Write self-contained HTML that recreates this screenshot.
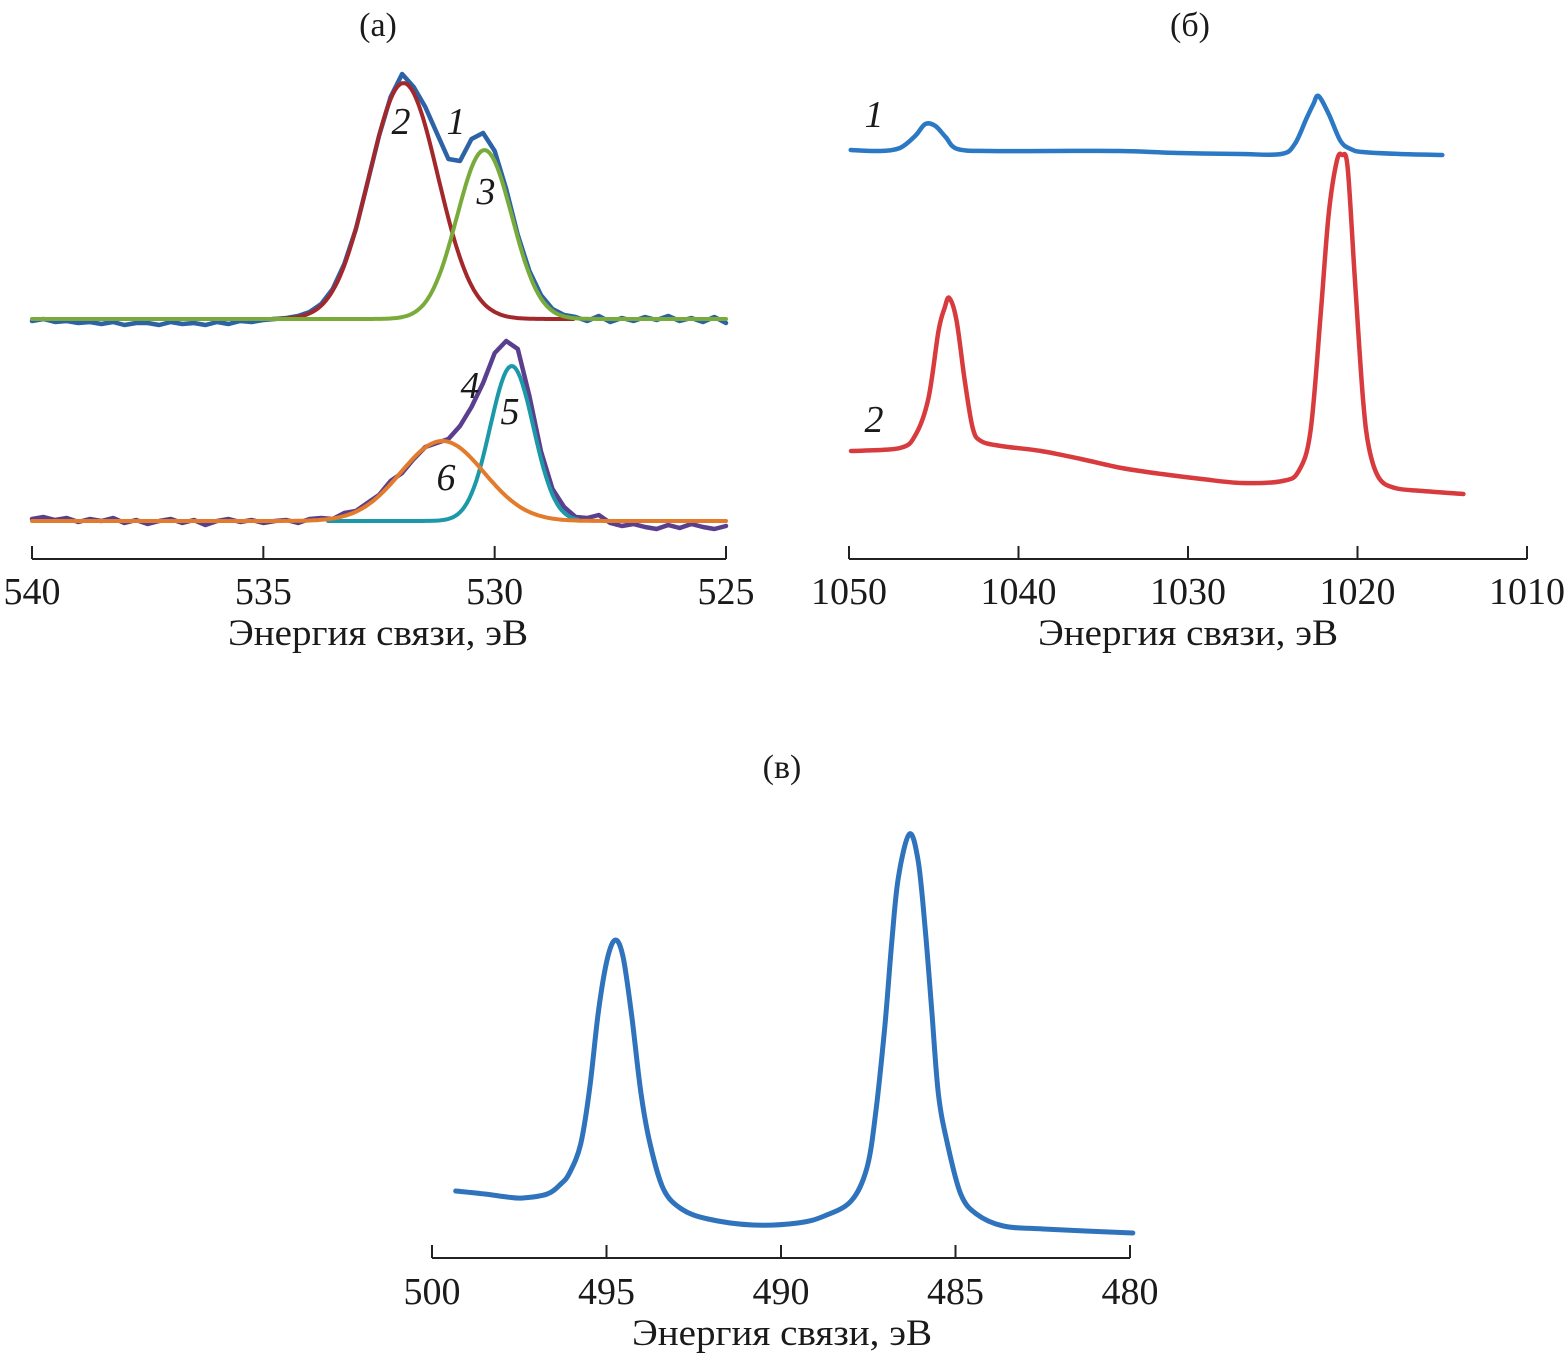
<!DOCTYPE html>
<html><head><meta charset="utf-8">
<style>
html,body{margin:0;padding:0;background:#fff;}
svg{display:block;}
text{font-family:"Liberation Serif",serif;fill:#1a1a1a;}
</style></head>
<body>
<svg id="chart" width="1566" height="1357" viewBox="0 0 1566 1357" xmlns="http://www.w3.org/2000/svg">
  <text x="378" y="36" font-size="34" text-anchor="middle">(а)</text>
  <text x="1190" y="36" font-size="34" text-anchor="middle">(б)</text>
  <text x="782" y="778" font-size="34" text-anchor="middle">(в)</text>
  <g id="pa"></g>
  <g id="pb"></g>
  <g id="pc"></g>
</svg>
<script>
// ---------- Panel (a): O 1s ----------
var aTicks = [540, 535, 530, 525];
var aGrid = [540, 525, 0.25];
var aSpec1 = [-2,0,-3,-2,-4,-3,-5,-3,-6,-4,-4,-6,-3,-5,-4,-6,-3,-5,-2,-3,-1,0,
  1,3,7,15,30,55,90,136,183,222,245,232,212,186,160,158,180,186,168,130,84,48,24,10,4,2,-2,
  3,-3,1,-2,2,-1,3,-2,1,-3,2,-4];
var aSpec4 = [2,4,1,3,-1,2,0,3,-2,1,-3,0,2,-2,1,-4,0,2,-1,1,-2,0,
  1,-2,2,3,2,8,10,18,26,40,48,62,74,78,82,95,114,138,168,180,172,125,70,32,14,4,
  3,6,-2,-5,-3,-6,-8,-4,-7,-3,-6,-8,-5];
var aOffsets = [240, 38];
var fitCentre = [531.97, 530.22, 529.63, 531.13];
var fitAmp    = [236, 169, 155, 80];
var fitFwhm   = [1.75, 1.40, 1.10, 2.12];
var fitFrom   = [534.8, 540, 533.6, 540];
var fitTo     = [528.3, 525, 528.2, 525];
var fitGroup  = [0, 0, 1, 1];

// ---------- Panel (б): Zn 2p ----------
var bTicks = [1050, 1040, 1030, 1020, 1010];
var bE1 = [1049.9,1048.2,1047.0,1046.1,1045.5,1044.9,1044.3,1043.6,1041.7,1038.1,1034.0,1030.5,1026.9,1024.5,1023.7,1023.0,1022.6,1022.3,1021.7,1021.0,1020.4,1019.7,1017.5,1015.0];
var bI1 = [409,408,411,423,435,433,422,410,408,408,408,406,405,405,415,441,455,463,445,418,410,407,405,404];
var bE2 = [1049.88,1046.99,1046.05,1045.31,1044.72,1044.36,1044.08,1043.65,1043.17,1042.70,1042.22,1041.03,1038.67,1036.31,1033.92,1031.55,1029.18,1026.81,1024.42,1023.47,1022.77,1022.17,1021.70,1021.22,1020.91,1020.58,1020.15,1019.68,1019.32,1018.73,1017.79,1016.14,1013.75];
var bI2 = [108,111,125,161,228,251,261,238,178,131,118,113,108,100,91,85,80,76,78,88,128,245,345,398,404,391,278,161,111,81,71,68,65];

// ---------- Panel (в): Sn 3d ----------
var cTicks = [500, 495, 490, 485, 480];
var cE = [499.32,498.49,497.85,497.40,496.70,496.31,496.06,495.74,495.48,495.23,494.97,494.74,494.52,494.27,494.01,493.75,493.37,492.85,492.09,490.81,489.52,488.76,487.99,487.54,487.28,487.03,486.83,486.64,486.32,486.07,485.87,485.68,485.49,485.23,484.85,484.40,483.63,482.48,479.92];
var cI = [67,64,61,60,64,74,85,114,170,247,300,318,300,240,164,114,69,49,39,33,35,42,57,90,147,230,314,380,424,397,330,247,164,114,64,44,32,29,25];

var SVGNS = 'http://www.w3.org/2000/svg';
function mkEl(tag, parent, attrs) {
  var e = document.createElementNS(SVGNS, tag);
  for (var k in attrs) { e.setAttribute(k, String(attrs[k])); }
  parent.appendChild(e);
  return e;
}
function linScale(d0, d1, r0, r1) {
  return function (v) { return r0 + (v - d0) * (r1 - r0) / (d1 - d0); };
}
function drawAxis(g, xs, ticks, axisY, x0, x1, titleX, tickBase, titleBase) {
  var ax = mkEl('line', g, {x1: x0, x2: x1, y1: axisY, y2: axisY, stroke: '#222', 'stroke-width': 2});
  
  
  for (var i = 0; i < ticks.length; i++) {
    var t = ticks[i];
    var tl = mkEl('line', g, {x1: xs(t), x2: xs(t), y1: axisY, y2: axisY - 13, stroke: '#222', 'stroke-width': 2});
    
    
    var tx = mkEl('text', g, {x: xs(t), y: tickBase, 'font-size': 38, 'text-anchor': 'middle'});
    
    
    tx.textContent = String(t);
  }
  var ti = mkEl('text', g, {x: titleX, y: titleBase, 'font-size': 37, 'text-anchor': 'middle', 'textLength': 300, 'lengthAdjust': 'spacingAndGlyphs'});
  
  
  ti.textContent = 'Энергия связи, эВ';
}
function drawLine(g, pts, color, w, nm, smooth) {
  var d = 'M' + pts[0][0].toFixed(1) + ',' + pts[0][1].toFixed(1);
  for (var i = 1; i < pts.length; i++) {
    if (smooth) {
      var p0 = pts[Math.max(i - 2, 0)], p1 = pts[i - 1], p2 = pts[i], p3 = pts[Math.min(i + 1, pts.length - 1)];
      var c1x = p1[0] + (p2[0] - p0[0]) / 6, c1y = p1[1] + (p2[1] - p0[1]) / 6;
      var c2x = p2[0] - (p3[0] - p1[0]) / 6, c2y = p2[1] - (p3[1] - p1[1]) / 6;
      d += 'C' + c1x.toFixed(1) + ',' + c1y.toFixed(1) + ' ' + c2x.toFixed(1) + ',' + c2y.toFixed(1) + ' ' + p2[0].toFixed(1) + ',' + p2[1].toFixed(1);
    } else {
      d += 'L' + pts[i][0].toFixed(1) + ',' + pts[i][1].toFixed(1);
    }
  }
  var el = mkEl('path', g, {d: d, fill: 'none', stroke: color, 'stroke-width': w, 'stroke-linejoin': 'round', 'stroke-linecap': 'round'});
  
  
  return el;
}
function addLabel(g, x, y, s, nm) {
  var t = mkEl('text', g, {x: x, y: y, 'font-size': 38, 'font-style': 'italic', 'text-anchor': 'middle'});
  
  
  t.textContent = s;
}

// Panel a
(function () {
  var g = document.getElementById('pa');
  var axisY = 559;
  var xs = linScale(540, 525, 32, 726);
  var ys = function (v) { return axisY - v; };
  drawAxis(g, xs, aTicks, axisY, 32, 726, 378, 604, 645);
  var p1 = [], p4 = [];
  for (var i = 0; i < aSpec1.length; i++) {
    var e = aGrid[0] - i * aGrid[2];
    p1.push([xs(e), ys(aOffsets[0] + aSpec1[i])]);
  }
  for (var j = 0; j < aSpec4.length; j++) {
    var e2 = aGrid[0] - j * aGrid[2];
    p4.push([xs(e2), ys(aOffsets[1] + aSpec4[j])]);
  }
  drawLine(g, p1, '#2d62a6', 4.5, 'spectrum-1', false);
  drawLine(g, p4, '#5b3f8f', 4.5, 'spectrum-4', false);
  var colors = ['#a2282c', '#79ab3b', '#1b99a8', '#e27b2b'];
  var names = ['fit-component-2', 'fit-component-3', 'fit-component-5', 'fit-component-6'];
  for (var k = 0; k < fitCentre.length; k++) {
    var s = fitFwhm[k] / 2.3548, pts = [];
    for (var en = fitFrom[k]; en >= fitTo[k] - 1e-9; en -= 0.05) {
      var v = fitAmp[k] * Math.exp(-Math.pow(en - fitCentre[k], 2) / (2 * s * s));
      pts.push([xs(en), ys(aOffsets[fitGroup[k]] + v)]);
    }
    drawLine(g, pts, colors[k], 4, names[k], false);
  }
  addLabel(g, 401, 134, '2', 'curve-label-2');
  addLabel(g, 456, 134, '1', 'curve-label-1');
  addLabel(g, 486, 204, '3', 'curve-label-3');
  addLabel(g, 470, 398, '4', 'curve-label-4');
  addLabel(g, 510, 424, '5', 'curve-label-5');
  addLabel(g, 446, 490, '6', 'curve-label-6');
})();

// Panel b
(function () {
  var g = document.getElementById('pb');
  var axisY = 559;
  var xs = linScale(1050, 1010, 849, 1527);
  var ys = function (v) { return axisY - v; };
  drawAxis(g, xs, bTicks, axisY, 849, 1527, 1188, 604, 645);
  var p1 = [], p2 = [];
  for (var i = 0; i < bE1.length; i++) p1.push([xs(bE1[i]), ys(bI1[i])]);
  for (var j = 0; j < bE2.length; j++) p2.push([xs(bE2[j]), ys(bI2[j])]);
  drawLine(g, p1, '#2b78c4', 4.5, 'spectrum-b-1', true);
  drawLine(g, p2, '#d83b3d', 4.5, 'spectrum-b-2', true);
  addLabel(g, 874, 127, '1', 'curve-label-b-1');
  addLabel(g, 874, 432, '2', 'curve-label-b-2');
})();

// Panel c
(function () {
  var g = document.getElementById('pc');
  var axisY = 1258;
  var xs = linScale(500, 480, 432, 1130);
  var ys = function (v) { return axisY - v; };
  drawAxis(g, xs, cTicks, axisY, 432, 1130, 782, 1304, 1345);
  var p = [];
  for (var i = 0; i < cE.length; i++) p.push([xs(cE[i]), ys(cI[i])]);
  drawLine(g, p, '#2f73bd', 5, 'spectrum-c', true);
})();
</script>
</body></html>
